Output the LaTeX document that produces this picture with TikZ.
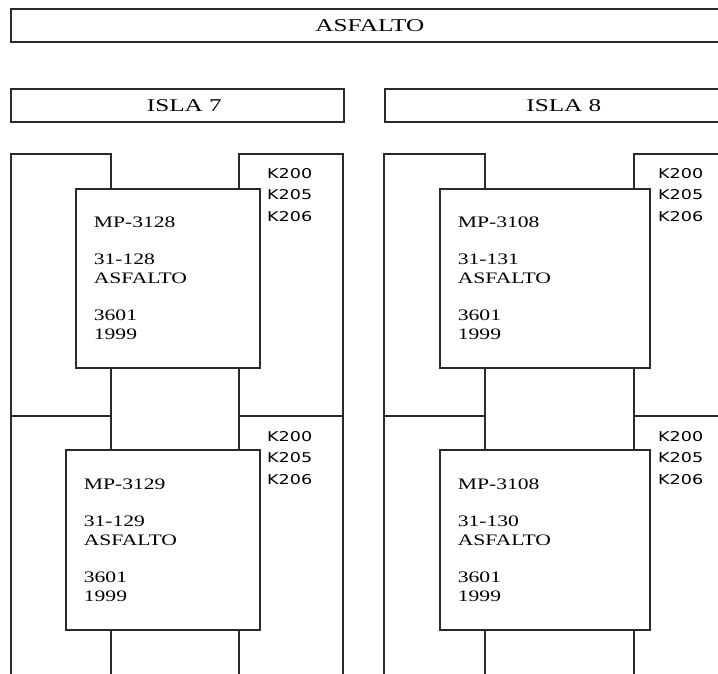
\documentclass[tikz,border=0pt]{standalone}
\usepackage{fontspec}
\setmainfont{Liberation Serif}
\newfontfamily\islafont{Liberation Serif}[FakeStretch=1.4]
\newfontfamily\bombafont{Liberation Serif}[FakeStretch=1.35]
\newfontfamily\codefont{DejaVu Sans}[FakeStretch=1.3]
\usepackage{xcolor}
\definecolor{linegray}{HTML}{2A2A2A}

\begin{document}
\begin{tikzpicture}[
    x=1pt, y=-1pt,
    titlebox/.style = {draw=linegray, line width=1.7pt, fill=white, anchor=north west, inner sep=0pt, minimum height=33pt, font=\islafont\fontsize{18}{22}\selectfont},
    lane/.style = {draw=linegray, line width=1.7pt, anchor=north west, inner sep=0pt},
    bomba/.style = {draw=linegray, line width=1.7pt, fill=white, anchor=north west, inner xsep=18pt, inner ysep=0pt, align=left, font=\bombafont\fontsize{16}{18.67}\selectfont},
    code/.style = {anchor=north west, inner sep=0pt, align=left, font=\codefont\fontsize{13.5}{21.5}\selectfont}
]

\path[use as bounding box, clip] (0,0) rectangle (718,673);

% Top strip
\node (asfalto) [titlebox, minimum width=718pt] at (10, 8) {ASFALTO};

% Island headers
\node (isla7) [titlebox, minimum width=333pt] at (10, 88) {\hspace*{14pt}ISLA 7};
\node (isla8) [titlebox, minimum width=344pt] at (384, 88) {\hspace*{14pt}ISLA 8};

% Island 7 lanes
\node (ul7) [lane, minimum width=100pt, minimum height=262pt] at (10, 153) {};
\node (ur7) [lane, minimum width=104pt, minimum height=262pt] at (238, 153) {};
\node (ll7) [lane, minimum width=100pt, minimum height=280pt] at (10, 415) {};
\node (lr7) [lane, minimum width=104pt, minimum height=280pt] at (238, 415) {};

% Island 8 lanes
\node (ul8) [lane, minimum width=101pt, minimum height=262pt] at (383, 153) {};
\node (ur8) [lane, minimum width=104pt, minimum height=262pt] at (633, 153) {};
\node (ll8) [lane, minimum width=101pt, minimum height=280pt] at (383, 415) {};
\node (lr8) [lane, minimum width=104pt, minimum height=280pt] at (633, 415) {};

% Pumps
\node (mp3128) [bomba, text width=148pt, minimum height=179pt] at (75, 188) {MP-3128\\[18.67pt]31-128\\ASFALTO\\[18.67pt]3601\\1999};
\node (mp3129) [bomba, text width=158pt, minimum height=180pt] at (65, 449) {MP-3129\\[18.67pt]31-129\\ASFALTO\\[18.67pt]3601\\1999};
\node (mp3108a) [bomba, text width=174pt, minimum height=179pt] at (439, 188) {MP-3108\\[18.67pt]31-131\\ASFALTO\\[18.67pt]3601\\1999};
\node (mp3108b) [bomba, text width=174pt, minimum height=180pt] at (439, 449) {MP-3108\\[18.67pt]31-130\\ASFALTO\\[18.67pt]3601\\1999};

% Codes
\node (k7a) [code] at (267, 168) {K200\\K205\\K206};
\node (k7b) [code] at (267, 431) {K200\\K205\\K206};
\node (k8a) [code] at (658, 168) {K200\\K205\\K206};
\node (k8b) [code] at (658, 431) {K200\\K205\\K206};

\end{tikzpicture}
\end{document}
